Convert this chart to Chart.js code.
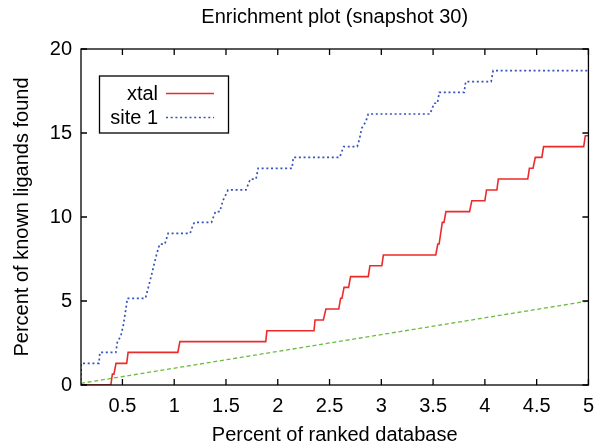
<!DOCTYPE html>
<html><head><meta charset="utf-8">
<script src="https://cdn.jsdelivr.net/npm/chart.js@4/dist/chart.umd.min.js"></script>
<style>html,body{margin:0;padding:0;background:#fff}#wrap{width:603px;height:446px}</style>
</head><body><div id="wrap"><canvas id="c" width="603" height="446"></canvas></div>
<script>
// ---- data ----
const xtalX = [0.1, 0.388, 0.403, 0.418, 0.438, 0.541, 0.555, 1.035, 1.055, 1.884, 1.895, 2.35, 2.36, 2.44, 2.465, 2.589, 2.607, 2.62, 2.64, 2.684, 2.703, 2.874, 2.89, 3.005, 3.02, 3.526, 3.545, 3.558, 3.589, 3.605, 3.624, 3.852, 3.874, 4.0, 4.016, 4.116, 4.13, 4.414, 4.43, 4.465, 4.487, 4.55, 4.567, 4.954, 4.97, 5.0];
const xtalY = [0, 0, 0.65, 0.65, 1.29, 1.29, 1.94, 1.94, 2.58, 2.58, 3.23, 3.23, 3.87, 3.87, 4.52, 4.52, 5.16, 5.16, 5.81, 5.81, 6.45, 6.45, 7.10, 7.10, 7.74, 7.74, 8.39, 8.39, 9.68, 9.68, 10.32, 10.32, 10.97, 10.97, 11.61, 11.61, 12.26, 12.26, 12.90, 12.90, 13.55, 13.55, 14.19, 14.19, 14.84, 14.84];

const site1X = [0.1, 0.102, 0.274, 0.282, 0.436, 0.452, 0.484, 0.507, 0.533, 0.548, 0.722, 0.752, 0.785, 0.808, 0.833, 0.86, 0.91, 0.941, 1.154, 1.17, 1.195, 1.36, 1.398, 1.44, 1.47, 1.52, 1.693, 1.735, 1.79, 1.81, 2.138, 2.15, 2.598, 2.636, 2.767, 2.79, 2.81, 2.85, 2.874, 3.471, 3.51, 3.541, 3.56, 3.80, 3.815, 4.06, 4.08, 5.0];
const site1Y = [0, 1.29, 1.29, 1.94, 1.94, 2.58, 2.90, 3.50, 4.50, 5.16, 5.16, 5.85, 6.65, 7.24, 7.84, 8.39, 8.39, 9.03, 9.03, 9.33, 9.68, 9.68, 10.32, 10.32, 10.97, 11.61, 11.61, 12.26, 12.26, 12.90, 12.90, 13.55, 13.55, 14.19, 14.19, 14.66, 15.28, 15.67, 16.13, 16.13, 16.77, 16.77, 17.42, 17.42, 18.06, 18.06, 18.71, 18.71];

const randomX = [0.1, 5.0];
const randomY = [0.1, 5.0];

const seriesLabels = ['xtal', 'site 1', 'random'];
const xTicks = [0.5, 1, 1.5, 2, 2.5, 3, 3.5, 4, 4.5, 5];
const yTicks = [0, 5, 10, 15, 20];
const titleText = 'Enrichment plot (snapshot 30)';
const xTitle = 'Percent of ranked database';
const yTitle = 'Percent of known ligands found';

// ---- build ----
const pts = (xs, ys) => xs.map((x, i) => ({x: x, y: ys[i]}));
const FONT = 'Liberation Sans, Arial, Helvetica, sans-serif';

const framePlugin = {
  id: 'frame',
  afterDatasetsDraw(chart) {
    const {ctx, chartArea: {left, right, top, bottom}, scales: {x, y}} = chart;
    ctx.save();
    ctx.strokeStyle = '#000';
    ctx.lineWidth = 1.3;
    ctx.strokeRect(left, top, right - left, bottom - top);
    const L = 6;
    ctx.beginPath();
    x.ticks.forEach(t => {
      const px = x.getPixelForValue(t.value);
      ctx.moveTo(px, bottom); ctx.lineTo(px, bottom - L);
      ctx.moveTo(px, top); ctx.lineTo(px, top + L);
    });
    y.ticks.forEach(t => {
      const py = y.getPixelForValue(t.value);
      ctx.moveTo(left, py); ctx.lineTo(left + L, py);
      ctx.moveTo(right, py); ctx.lineTo(right - L, py);
    });
    ctx.stroke();

    // legend box
    ctx.fillStyle = '#fff';
    ctx.fillRect(99.5, 76, 129, 57);
    ctx.strokeRect(99.5, 76, 129, 57);
    ctx.font = '20px ' + FONT;
    ctx.textAlign = 'right';
    ctx.textBaseline = 'middle';
    ctx.fillStyle = '#000';
    [0, 1].forEach((di, r) => {
      const ds = chart.data.datasets[di];
      const cy = 93.5 + r * 24;
      ctx.fillText(ds.label, 158, cy + 1);
      ctx.save();
      ctx.strokeStyle = ds.borderColor;
      ctx.lineWidth = ds.borderWidth;
      ctx.setLineDash(ds.borderDash || []);
      ctx.beginPath();
      ctx.moveTo(166, cy); ctx.lineTo(214, cy);
      ctx.stroke();
      ctx.restore();
    });
    ctx.restore();
  }
};

new Chart(document.getElementById('c'), {
  type: 'line',
  data: {
    datasets: [
      {label: seriesLabels[0], data: pts(xtalX, xtalY), borderColor: '#ec2a2a', borderWidth: 1.6, pointRadius: 0, tension: 0, fill: false},
      {label: seriesLabels[1], data: pts(site1X, site1Y), borderColor: '#3553bb', borderWidth: 1.7, borderDash: [2, 2.7], pointRadius: 0, tension: 0, fill: false},
      {label: seriesLabels[2], data: pts(randomX, randomY), borderColor: '#6cbb3c', borderWidth: 1.3, borderDash: [4, 2.7], pointRadius: 0, tension: 0, fill: false}
    ]
  },
  options: {
    responsive: false,
    animation: false,
    layout: {padding: {left: 0, right: 8, top: 0, bottom: 0}},
    plugins: {
      legend: {display: false},
      tooltip: {enabled: false},
      title: {
        display: true, text: titleText, fullSize: false,
        color: '#000', font: {family: FONT, size: 20, weight: 'normal', lineHeight: 1.2},
        padding: {top: 5, bottom: 20}
      }
    },
    scales: {
      x: {
        type: 'linear', min: 0.1, max: 5,
        afterBuildTicks: s => { s.ticks = xTicks.map(v => ({value: v})); },
        afterFit: s => { s.height = 61; },
        grid: {display: false, drawTicks: false},
        border: {display: false},
        ticks: {color: '#000', padding: 9, maxRotation: 0, autoSkip: false,
          font: {family: FONT, size: 20, lineHeight: 1.2},
          callback: v => String(v)},
        title: {display: true, text: xTitle, color: '#000',
          font: {family: FONT, size: 20, lineHeight: 1.1}, padding: {top: 0, bottom: 0}}
      },
      y: {
        type: 'linear', min: 0, max: 20,
        afterBuildTicks: s => { s.ticks = yTicks.map(v => ({value: v})); },
        afterFit: s => { s.width = 81; },
        grid: {display: false, drawTicks: false},
        border: {display: false},
        ticks: {color: '#000', padding: 9, autoSkip: false,
          font: {family: FONT, size: 20, lineHeight: 1.2},
          callback: v => String(v)},
        title: {display: true, text: yTitle, color: '#000',
          font: {family: FONT, size: 20, lineHeight: 1.2}, padding: {top: 10, bottom: 0}}
      }
    }
  },
  plugins: [framePlugin]
});
</script>
</body></html>
